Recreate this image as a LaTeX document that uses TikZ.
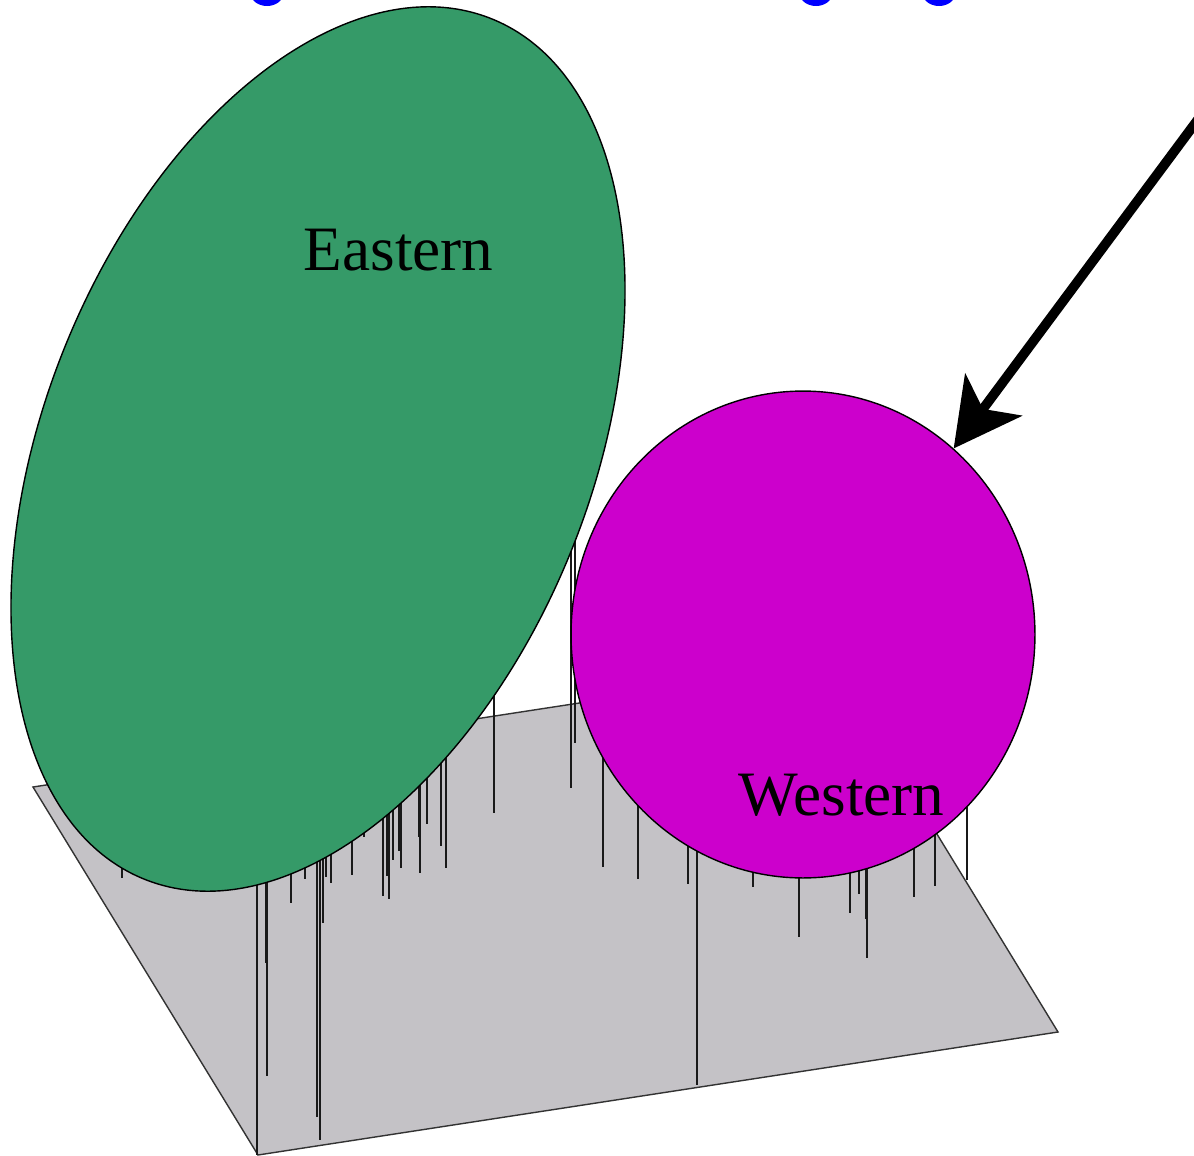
\documentclass[tikz,border=0pt]{standalone}
\usepackage{fontspec}
\setmainfont{Liberation Serif}
\usetikzlibrary{shapes.geometric, arrows.meta}

\definecolor{planegray}{RGB}{196,194,198}
\definecolor{eastgreen}{RGB}{53,154,104}
\definecolor{westmagenta}{RGB}{204,0,204}

\tikzset{
  stem/.style={draw=black!90, line width=0.9pt},
  region/.style={ellipse, draw=black, line width=0.8pt, inner sep=0pt},
  regionlabel/.style={anchor=base, font=\fontsize{36}{40}\selectfont},
  pointer/.style={line width=5.5pt, -{Stealth[length=38pt, width=40pt, inset=10pt]}}
}

\begin{document}
\begin{tikzpicture}[x=0.02cm, y=-0.02cm]
  \useasboundingbox (0,0) rectangle (1194,1156);

  % title remnants at the top edge
  \foreach \bx in {267,816,939}
    \fill[blue] (\bx,-8) ellipse [x radius=17, y radius=14];

  % base plane
  \draw[fill=planegray, draw=black!80, line width=0.8pt]
    (33,787) -- (258,1155) -- (1058,1032) -- (833,664) -- cycle;

  % stems under the eastern region
  \foreach \sx/\sb in {122/878,257/1155,266/963,267/1076,291/903,305/879,
      317/1117,320/1140,323/923,326/877,331/883,352/875,364/837,383/896,
      387/876,388/876,389/899,393/860,399/851,401/868,419/837,420/873,
      427/824,441/846,446/868,494/813,571/788,575/743}
    \draw[stem] (\sx,500) -- (\sx,\sb);

  % stems under the western region
  \foreach \sx/\sb in {603/867,638/879,688/884,697/1085,753/887,799/937,
      850/913,859/894,866/919,867/958,914/897,935/886,967/880}
    \draw[stem] (\sx,640) -- (\sx,\sb);

  % regions
  \node[region, fill=eastgreen, minimum width=18.56cm, minimum height=10.92cm,
    rotate=68] (eastern) at (318,449) {};
  \node[region, fill=westmagenta, minimum width=9.28cm, minimum height=9.74cm]
    (western) at (803,634.5) {};

  \node[regionlabel] (eastlabel) at (398.5,270) {Eastern};
  \node[regionlabel] (westlabel) at (841.5,815) {Western};

  % arrow
  \coordinate (arrowtail) at (1205,110);
  \draw[pointer] (arrowtail) -- (western.51);
\end{tikzpicture}
\end{document}
